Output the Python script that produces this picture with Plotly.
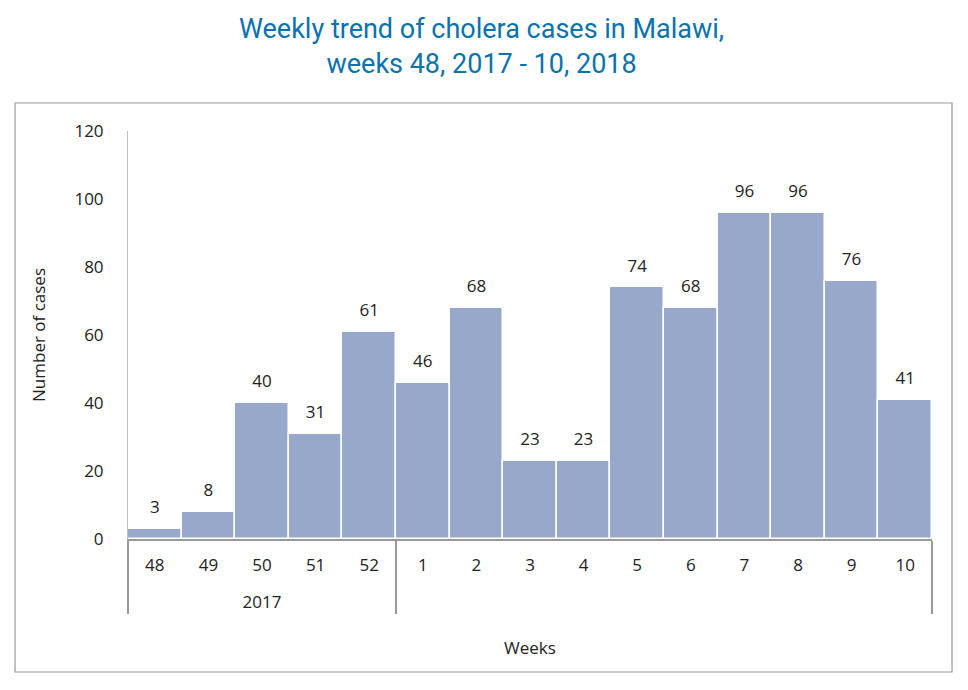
import plotly.graph_objects as go

weeks = ["48", "49", "50", "51", "52", "1", "2", "3", "4", "5", "6", "7", "8", "9", "10"]
years = ["<br>2017"] * 5 + [" "] * 10
cases = [3, 8, 40, 31, 61, 46, 68, 23, 23, 74, 68, 96, 96, 76, 41]

label_font = dict(family="Open Sans, sans-serif", size=17, color="#222222")

fig = go.Figure()
fig.add_bar(
    x=[years, weeks],
    y=cases,
    marker=dict(color="#98a8cb", line=dict(color="white", width=1.5)),
)
# value labels: invisible markers push the text a bit above the bar tops
fig.add_scatter(
    x=[years, weeks],
    y=cases,
    mode="markers+text",
    text=cases,
    textposition="top center",
    textfont=label_font,
    marker=dict(size=17, opacity=0),
    cliponaxis=False,
    hoverinfo="skip",
)

# page body has an 8px margin, so the figure is 16px smaller than the window
fig.update_layout(
    width=952, height=674,
    paper_bgcolor="white", plot_bgcolor="white",
    margin=dict(l=120, r=28, t=123, b=143),
    bargap=0,
    showlegend=False,
    annotations=[dict(
        text="Weekly trend of cholera cases in Malawi,<br>weeks 48, 2017 - 10, 2018",
        xref="paper", yref="paper", x=0.44, y=1.2083,
        xanchor="center", yanchor="middle", showarrow=False,
        font=dict(family="Roboto, sans-serif", size=27, color="#0a72ae"),
    )],
    shapes=[dict(type="rect", xref="paper", yref="paper",
                 x0=-0.1405, x1=1.0249, y0=-0.326, y1=1.0686,
                 line=dict(color="#999999", width=1.2), layer="below")],
)

fig.update_xaxes(
    range=[-0.5, len(weeks) - 0.5],
    showline=True, linecolor="#999999", linewidth=1.5,
    showgrid=False, ticks="",
    tickfont=label_font, ticklabelstandoff=10,
    showdividers=True, dividercolor="#999999", dividerwidth=1.5,
    title=dict(text="Weeks", font=label_font, standoff=30),
)
fig.update_yaxes(
    range=[0, 120], dtick=20,
    showline=True, linecolor="#bfbfbf", linewidth=1,
    showgrid=False, zeroline=False, ticks="",
    tickfont=label_font, ticklabelstandoff=20,
    title=dict(text="Number of cases", font=label_font, standoff=24),
)

fig.write_html("out.html")
